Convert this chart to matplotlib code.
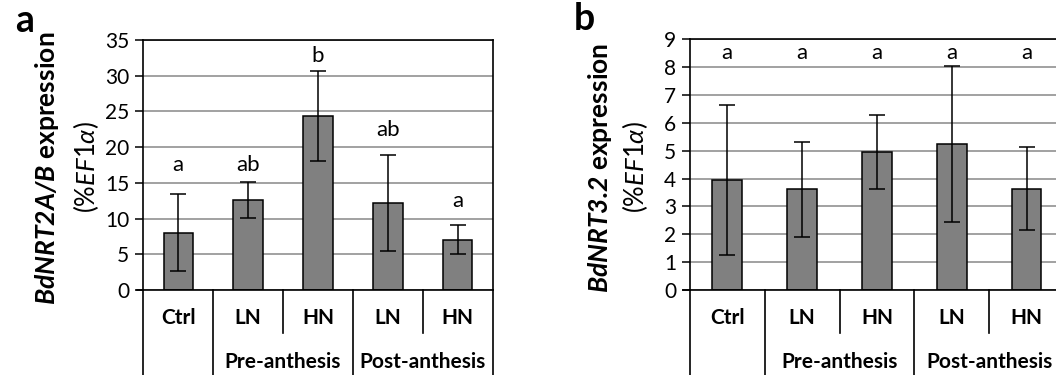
import matplotlib
matplotlib.use("Agg")
import matplotlib.pyplot as plt
from matplotlib import transforms

plt.rcParams['font.family'] = ['Lato', 'DejaVu Sans']
plt.rcParams['mathtext.fontset'] = 'custom'
plt.rcParams['mathtext.it'] = 'Lato:italic'
plt.rcParams['mathtext.bf'] = 'Lato:bold:italic'
plt.rcParams['mathtext.rm'] = 'Lato'

categories = ["Ctrl", "LN", "HN", "LN", "HN"]
groups = ["Pre-anthesis", "Post-anthesis"]

a_values = [8.0, 12.6, 24.3, 12.2, 7.05]
a_errors = [5.4, 2.5, 6.3, 6.7, 2.05]
a_letters = ["a", "ab", "b", "ab", "a"]
a_letter_y = [17.5, 17.5, 32.7, 22.4, 12.4]
a_yticks = [0, 5, 10, 15, 20, 25, 30, 35]

b_values = [3.95, 3.61, 4.95, 5.24, 3.64]
b_errors = [2.68, 1.72, 1.32, 2.8, 1.5]
b_letters = ["a", "a", "a", "a", "a"]
b_letter_y = [8.5, 8.5, 8.5, 8.5, 8.5]
b_yticks = [0, 1, 2, 3, 4, 5, 6, 7, 8, 9]

W, H = 1056, 375
fig = plt.figure(figsize=(W / 100, H / 100), dpi=100)

TICK_FS = 15
CAT_FS = 15


def panel(left_px, width_px, top_px, values, errors, letters, letter_y, yticks,
          gene, letter, letter_xy, ylab_x1, ylab_x2, bar_width):
    bottom_px = 290
    ax = fig.add_axes([left_px / W, (H - bottom_px) / H, width_px / W, (bottom_px - top_px) / H])
    ax.set_facecolor('none')
    x = list(range(len(values)))
    ax.set_axisbelow(True)
    ax.yaxis.grid(True, color='#9a9a9a', linewidth=1.3)
    ax.bar(x, values, width=bar_width, color='#808080', edgecolor='black', linewidth=1.1, zorder=2)
    ax.errorbar(x, values, yerr=errors, fmt='none', ecolor='black', elinewidth=1.1,
                capsize=6, capthick=1.1, zorder=3)
    for xi, lt, ly in zip(x, letters, letter_y):
        ax.text(xi, ly, lt, ha='center', va='center', fontsize=16)
    ax.set_xlim(-0.5, len(values) - 0.5)
    ax.set_ylim(yticks[0], yticks[-1])
    ax.set_yticks(yticks)
    ax.set_yticklabels([str(t) for t in yticks], fontsize=TICK_FS)
    ax.tick_params(axis='y', direction='out', length=6, width=1.1, pad=4)
    ax.set_xticks([])
    for s in ax.spines.values():
        s.set_linewidth(1.2)
        s.set_color('black')
    tr = transforms.blended_transform_factory(ax.transAxes, ax.transData)
    ax.plot([-0.018, 0], [0, 0], color='black', lw=1.2, transform=tr, clip_on=False)
    trx = transforms.blended_transform_factory(ax.transData, ax.transAxes)
    h = (bottom_px - top_px)
    long_end = -(H - bottom_px + 5) / h
    short_end = -(333 - bottom_px) / h
    for bx in [-0.5, 0.5, 2.5, 4.5]:
        ax.plot([bx, bx], [0, long_end], color='black', lw=1.2, transform=trx, clip_on=False)
    for bx in [1.5, 3.5]:
        ax.plot([bx, bx], [0, short_end], color='black', lw=1.2, transform=trx, clip_on=False)
    cat_y = -(318 - bottom_px) / h
    grp_y = -(362 - bottom_px) / h
    for xi, c in zip(x, categories):
        ax.text(xi, cat_y, c, ha='center', va='center', fontsize=CAT_FS, fontweight='bold', transform=trx)
    for gx, g in zip([1.5, 3.5], groups):
        ax.text(gx, grp_y, g, ha='center', va='center', fontsize=CAT_FS, fontweight='bold', transform=trx)
    fig.text(ylab_x1 / W, (H - 168) / H, r'$\mathbf{' + gene + r'}$' + ' expression',
             rotation=90, ha='center', va='center', fontsize=19, fontweight='bold')
    fig.text(ylab_x2 / W, (H - 167) / H, r'(%$EF1\alpha$)',
             rotation=90, ha='center', va='center', fontsize=18.5)
    fig.text(letter_xy[0] / W, (H - letter_xy[1]) / H, letter, ha='center', va='center',
             fontsize=27, fontweight='bold')
    return ax


panel(143.3, 349.4, 40, a_values, a_errors, a_letters, a_letter_y, a_yticks,
      r'BdNRT2A/B', 'a', (25, 21), 47, 86, 0.42)
panel(689.9, 374.0, 39.3, b_values, b_errors, b_letters, b_letter_y, b_yticks,
      r'BdNRT3.2', 'b', (584, 19), 600, 635, 0.40)

fig.savefig('out.png', dpi=100)
